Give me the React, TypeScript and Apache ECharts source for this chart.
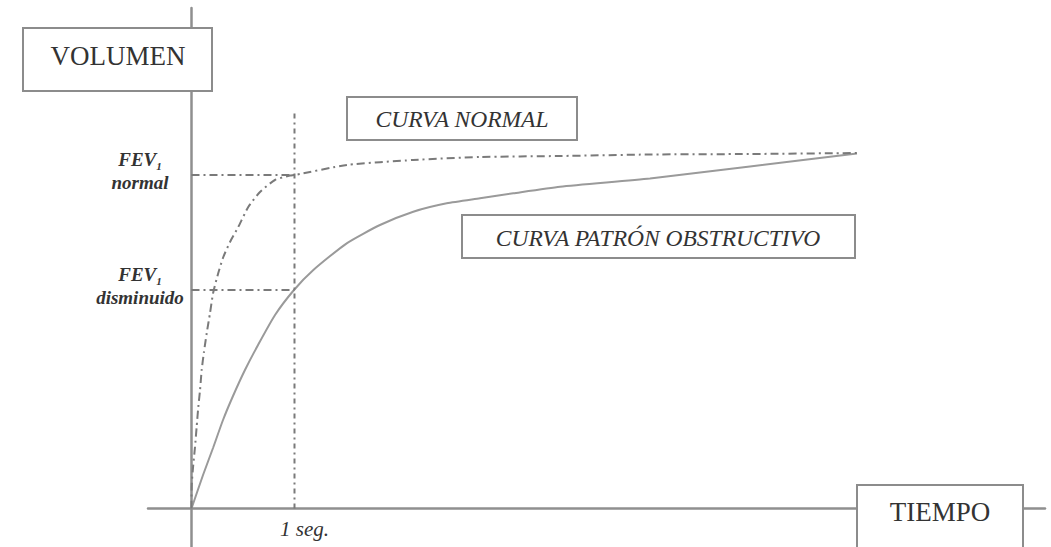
import React, { useEffect, useRef } from "react";
import * as echarts from "echarts";

// Time (s) and volume (arbitrary units)
const timeNormal = [0, 0.002, 0.017, 0.034, 0.05, 0.066, 0.083, 0.099, 0.121, 0.148, 0.18, 0.21, 0.26, 0.309, 0.374, 0.454, 0.551, 0.665, 0.81, 0.956, 1.0, 1.51, 2.15, 2.8, 3.58, 4.45, 5.42, 6.46];
const volNormal = [0, 0.235, 0.435, 0.615, 0.815, 1.015, 1.185, 1.385, 1.565, 1.755, 1.955, 2.155, 2.355, 2.515, 2.665, 2.815, 3.015, 3.165, 3.285, 3.33, 3.335, 3.435, 3.485, 3.515, 3.525, 3.54, 3.545, 3.555];

const timeObstr = [0, 0.112, 0.209, 0.306, 0.403, 0.519, 0.646, 0.811, 0.995, 1.183, 1.507, 1.83, 2.153, 2.478, 2.801, 3.124, 3.578, 4.451, 5.422, 6.461];
const volObstr = [0, 0.335, 0.605, 0.885, 1.125, 1.385, 1.635, 1.935, 2.185, 2.385, 2.652, 2.835, 2.968, 3.052, 3.102, 3.152, 3.218, 3.3, 3.42, 3.55];

const fevNormal = 3.335;
const fevDisminuido = 2.185;
const oneSecond = 1;
const guideTop = 3.985;

const yLabelNormal = ["FEV", "1", "normal"];
const yLabelDisminuido = ["FEV", "1", "disminuido"];
const xLabel = "1 seg.";

const titleVolumen = "VOLUMEN";
const titleTiempo = "TIEMPO";
const labelCurvaNormal = "CURVA NORMAL";
const labelCurvaObstr = "CURVA PATRÓN OBSTRUCTIVO";

const zip = (a: number[], b: number[]) => a.map((v, i) => [v, b[i]]);

const SERIF = "Liberation Serif";
const TEXT = "#333333";
const BORDER = "#8c8c8c";

export default function App() {
  const ref = useRef<HTMLDivElement>(null);
  useEffect(() => {
    if (!ref.current) return;
    const chart = echarts.init(ref.current, undefined, { renderer: "svg" });
    const dashDot = [8, 4, 2, 4];
    const box = (x: number, y: number, w: number, h: number) => ({
      type: "rect",
      z: 100,
      shape: { x, y, width: w, height: h },
      style: { fill: "#fff", stroke: BORDER, lineWidth: 2 },
    });
    const txt = (text: string, x: number, y: number, size: number, italic: boolean) => ({
      type: "text",
      z: 101,
      style: {
        text,
        x,
        y,
        align: "center",
        verticalAlign: "middle",
        fontFamily: SERIF,
        fontSize: size,
        fontStyle: italic ? "italic" : "normal",
        fill: TEXT,
      },
    });
    const close = (a: number, b: number) => Math.abs(a - b) < 0.01;
    chart.setOption({
      animation: false,
      backgroundColor: "#fff",
      grid: { left: 148, right: 6, top: 8, bottom: 0, outerBoundsMode: "none", containLabel: false },
      xAxis: {
        type: "value",
        min: -0.4223,
        max: 8.2864,
        splitLine: { show: false },
        axisTick: { show: false },
        axisLabel: { show: false },
        axisLine: { onZero: true, lineStyle: { color: "#8f8f8f", width: 2.5 } },
      },
      yAxis: {
        type: "value",
        min: -0.385,
        max: 5.005,
        splitLine: { show: false },
        axisTick: { show: false },
        axisLine: { onZero: true, lineStyle: { color: "#8f8f8f", width: 2.5 } },
        axisLabel: {
          customValues: [fevDisminuido, fevNormal],
          margin: 8,
          align: "center",
          padding: [0, 0, 8, 0],
          formatter: (v: number) => {
            const l = close(v, fevNormal) ? yLabelNormal : yLabelDisminuido;
            return `{b|${l[0]}}{s|${l[1]}}\n{b|${l[2]}}`;
          },
          rich: {
            b: {
              fontFamily: SERIF,
              fontStyle: "italic",
              fontWeight: "bold",
              fontSize: 19,
              lineHeight: 23,
              color: TEXT,
            },
            s: {
              fontFamily: SERIF,
              fontStyle: "italic",
              fontWeight: "bold",
              fontSize: 11,
              lineHeight: 23,
              verticalAlign: "bottom",
              color: TEXT,
            },
          },
        },
      },
      series: [
        {
          type: "line",
          data: zip(timeObstr, volObstr),
          showSymbol: false,
          smooth: 0.2,
          lineStyle: { color: "#9a9a9a", width: 2 },
          z: 3,
        },
        {
          type: "line",
          data: zip(timeNormal, volNormal),
          showSymbol: false,
          smooth: 0.2,
          lineStyle: { color: "#7a7a7a", width: 2, type: dashDot },
          z: 4,
        },
        {
          type: "line",
          data: [[0, fevNormal], [oneSecond, fevNormal]],
          showSymbol: false,
          lineStyle: { color: "#7a7a7a", width: 2, type: dashDot },
        },
        {
          type: "line",
          data: [[0, fevDisminuido], [oneSecond, fevDisminuido]],
          showSymbol: false,
          lineStyle: { color: "#7a7a7a", width: 2, type: dashDot },
        },
        {
          type: "line",
          data: [[oneSecond, 0], [oneSecond, guideTop]],
          showSymbol: false,
          lineStyle: { color: "#7a7a7a", width: 2, type: [5, 4, 2, 4] },
        },
        {
          type: "scatter",
          data: [[oneSecond, 0]],
          symbolSize: 0.5,
          itemStyle: { color: "#8f8f8f" },
          silent: true,
          z: 1,
          label: {
            show: true,
            position: "bottom",
            distance: 12,
            offset: [10, -2],
            formatter: () => xLabel,
            fontFamily: SERIF,
            fontStyle: "italic",
            fontSize: 21,
            color: TEXT,
            opacity: 1,
          },
        },
      ],
      graphic: [
        box(23, 28, 189, 63),
        txt(titleVolumen, 118, 56, 27, false),
        box(347, 97, 230, 43),
        txt(labelCurvaNormal, 462, 119, 23.5, true),
        box(462, 215, 393, 43),
        txt(labelCurvaObstr, 658, 238, 23.5, true),
        box(857, 485, 166, 70),
        txt(titleTiempo, 940, 512, 27, false),
      ],
    });
    return () => chart.dispose();
  }, []);
  return (
    <div
      ref={ref}
      style={{ position: "fixed", left: 0, top: 0, width: 1051, height: 547, background: "#fff" }}
    />
  );
}
